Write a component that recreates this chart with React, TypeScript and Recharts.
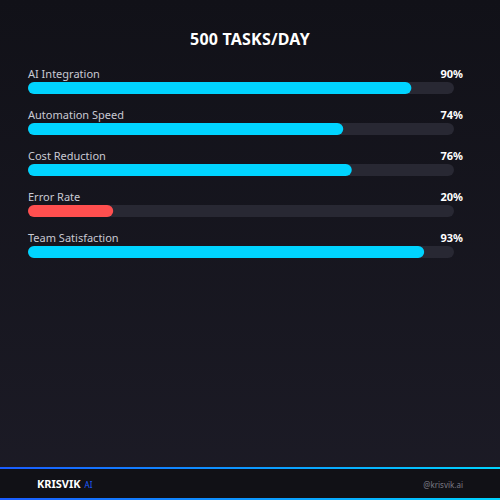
import { BarChart, Bar, XAxis, YAxis, Cell, LabelList } from 'recharts'

const metrics = ['AI Integration', 'Automation Speed', 'Cost Reduction', 'Error Rate', 'Team Satisfaction']
const scores = [90, 74, 76, 20, 93]
const negative = [false, false, false, true, false]

const data = metrics.map((name, i) => ({ name, value: scores[i], bad: negative[i] }))

const FONT = '"Noto Sans", "Open Sans", sans-serif'
const PLOT_LEFT = 28
const PLOT_RIGHT = 46
const PLOT_W = 500 - PLOT_LEFT - PLOT_RIGHT

const NameLabel = (props: any) => {
  const { x, y, value } = props
  return (
    <text x={x} y={y - 4} fill="#c9c9d3" fontSize={11} fontFamily={FONT}>
      {value}
    </text>
  )
}

const ValueLabel = (props: any) => {
  const { x, y, value } = props
  return (
    <text x={x + PLOT_W + 9} y={y - 4} fill="#ffffff" fontSize={11} fontWeight={700}
      fontFamily={FONT} textAnchor="end">
      {value}%
    </text>
  )
}

export default function App() {
  return (
    <div style={{
      position: 'absolute', left: 0, top: 0, width: 500, height: 500, overflow: 'hidden',
      background: 'linear-gradient(180deg, #111118 0%, #1c1b26 100%)', fontFamily: FONT
    }}>
      <div style={{
        position: 'absolute', top: 28, left: 0, width: 500, textAlign: 'center',
        color: '#fff', fontSize: 16, fontWeight: 700, letterSpacing: 0.2
      }}>
        500 TASKS/DAY
      </div>

      <div style={{ position: 'absolute', left: 0, top: 0 }}>
        <BarChart width={500} height={460} data={data} layout="vertical"
          margin={{ top: 67, right: PLOT_RIGHT, left: PLOT_LEFT, bottom: 188 }}>
          <XAxis type="number" domain={[0, 100]} hide />
          <YAxis type="category" dataKey="name" hide />
          <Bar dataKey="value" barSize={12} radius={6} isAnimationActive={false}
            background={{ fill: '#282833', radius: 6 }}>
            {data.map((d, i) => (
              <Cell key={i} fill={d.bad ? '#ff4f4f' : '#00d4ff'} />
            ))}
            <LabelList dataKey="name" content={NameLabel} />
            <LabelList dataKey="value" content={ValueLabel} />
          </Bar>
        </BarChart>
      </div>

      <div style={{
        position: 'absolute', left: 0, top: 467, width: 500, height: 2,
        background: 'linear-gradient(90deg, #1a5cff 0%, #00d4ff 100%)'
      }} />
      <div style={{ position: 'absolute', left: 0, top: 469, width: 500, height: 29, background: '#111116' }} />
      <div style={{
        position: 'absolute', left: 0, top: 498, width: 500, height: 2,
        background: 'linear-gradient(90deg, #1a5cff 0%, #00d4ff 100%)'
      }} />
      <div style={{ position: 'absolute', left: 37, top: 476, display: 'flex', alignItems: 'baseline', gap: 4 }}>
        <span style={{ color: '#fff', fontSize: 11, fontWeight: 700 }}>KRISVIK</span>
        <span style={{ color: '#1e5cff', fontSize: 8 }}>AI</span>
      </div>
      <div style={{ position: 'absolute', right: 37, top: 479, color: '#7a7a85', fontSize: 8 }}>
        @krisvik.ai
      </div>
    </div>
  )
}
